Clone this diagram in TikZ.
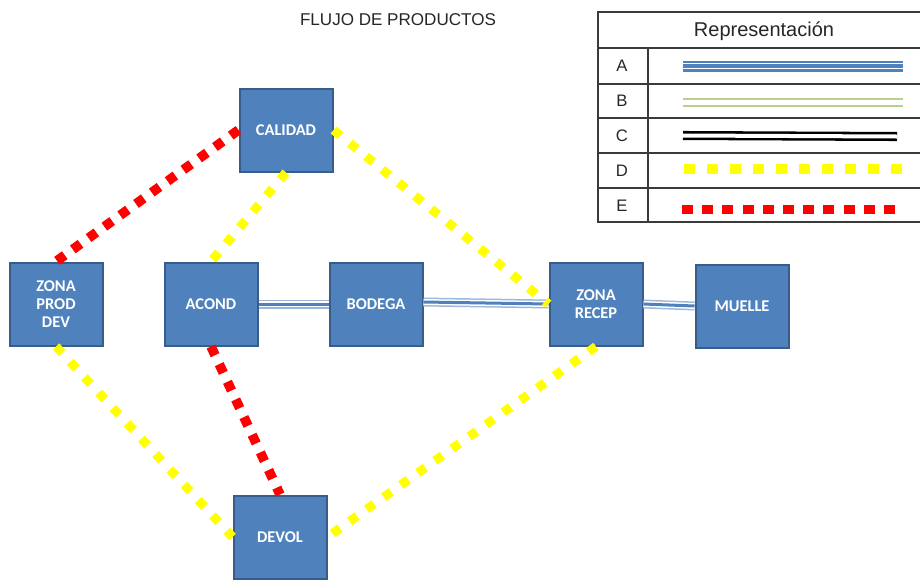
\documentclass[tikz,border=0pt]{standalone}
\usepackage{fontspec}
\setmainfont{Liberation Sans}
\newfontfamily\boxfont{Carlito}
\definecolor{boxfill}{HTML}{4F81BD}
\definecolor{boxedge}{HTML}{385D8A}
\definecolor{linkblue}{HTML}{9DB7DC}
\definecolor{legendgreen}{HTML}{B9D18F}
\definecolor{inkgray}{HTML}{262626}
\definecolor{rulegray}{HTML}{3A3A3A}
\definecolor{flowyellow}{HTML}{FFFF00}
\definecolor{flowred}{HTML}{FF0000}
\tikzset{
  zone/.style={draw=boxedge, fill=boxfill, line width=1.5pt,
    minimum width=69.75pt, minimum height=62.25pt, inner sep=0pt,
    text=white, font=\boxfont\bfseries\fontsize{12.3}{13.5}\selectfont, align=center},
  alink/.style={draw=linkblue, line width=6.75pt,
    postaction={draw=white, line width=4.5pt},
    postaction={draw=boxfill, line width=2.25pt}},
  dlink/.style={draw=flowyellow, line width=6.8pt, dash pattern=on 6.8pt off 8.9pt},
  elink/.style={draw=flowred, line width=7.2pt, dash pattern=on 7.2pt off 7.4pt},
  legendtxt/.style={text=inkgray, font=\fontsize{12.5}{14}\selectfont, inner sep=0pt},
}
\begin{document}
\begin{tikzpicture}[x=0.75pt,y=-0.75pt]
\useasboundingbox (0,0) rectangle (920,579);

% title
\node[text=inkgray, font=\fontsize{12.8}{14}\selectfont, inner sep=0pt] (title) at (398,20) {FLUJO DE PRODUCTOS};

% zones
\node[zone] (cal) at (286,130) {CALIDAD};
\node[zone] (zpd) at (56,304) {ZONA\\PROD\\DEV};
\node[zone] (acond) at (211,304) {ACOND};
\node[zone] (bod) at (376,304) {BODEGA};
\node[zone] (zr) at (596,304) {ZONA\\RECEP};
\node[zone] (mu) at (742,306) {MUELLE};
\node[zone] (dev) at (280,537) {DEVOL};

% type A links
\draw[alink] (acond.east) -- (bod.west);
\draw[alink] ([yshift=1.5pt]bod.east) -- (zr.west);
\draw[alink] (zr.east) -- (mu.west);

% type D links
\draw[dlink] (cal.south) -- (acond.north);
\draw[dlink] (cal.east) -- (zr.west);
\draw[dlink] (zpd.south) -- (dev.west);
\draw[dlink] (zr.south) -- (dev.east);

% type E links
\draw[elink] (cal.west) -- (zpd.north);
\draw[elink] (acond.south) -- (dev.north);

% legend table
\draw[rulegray, line width=0.9pt] (598,12) rectangle (921,222);
\foreach \yy in {48,84,118,153,188}
  \draw[rulegray, line width=0.9pt] (598,\yy) -- (921,\yy);
\draw[rulegray, line width=0.9pt] (648,48) -- (648,222);
\node[text=inkgray, font=\fontsize{15}{17}\selectfont, inner sep=0pt] (legtitle) at (764,31) {Representación};
\node[legendtxt] (ka) at (622,66) {A};
\node[legendtxt] (kb) at (622,101) {B};
\node[legendtxt] (kc) at (622,136) {C};
\node[legendtxt] (kd) at (622,171) {D};
\node[legendtxt] (ke) at (622,206) {E};

\coordinate (a1) at (683,66);  \coordinate (a2) at (903,66);
\coordinate (b1) at (683,102.7); \coordinate (b2) at (903,102.7);
\coordinate (c1) at (683,135.5); \coordinate (c2) at (897,136.5);
\coordinate (d1) at (684,169); \coordinate (d2) at (903,169);
\coordinate (e1) at (682,209.5); \coordinate (e2) at (895,209.5);

\draw[draw=boxfill, line width=8.25pt,
  postaction={draw=white, line width=5pt},
  postaction={draw=boxfill, line width=2.6pt}] (a1) -- (a2);
\draw[draw=legendgreen, line width=1.5pt, double=white, double distance=3.5pt] (b1) -- (b2);
\draw[draw=black, line width=1.9pt, double=white, double distance=3pt] (c1) -- (c2);
\draw[draw=flowyellow, line width=7.5pt, dash pattern=on 8.25pt off 9pt] (d1) -- (d2);
\draw[draw=flowred, line width=7pt, dash pattern=on 8.25pt off 6.9pt] (e1) -- (e2);
\end{tikzpicture}
\end{document}
